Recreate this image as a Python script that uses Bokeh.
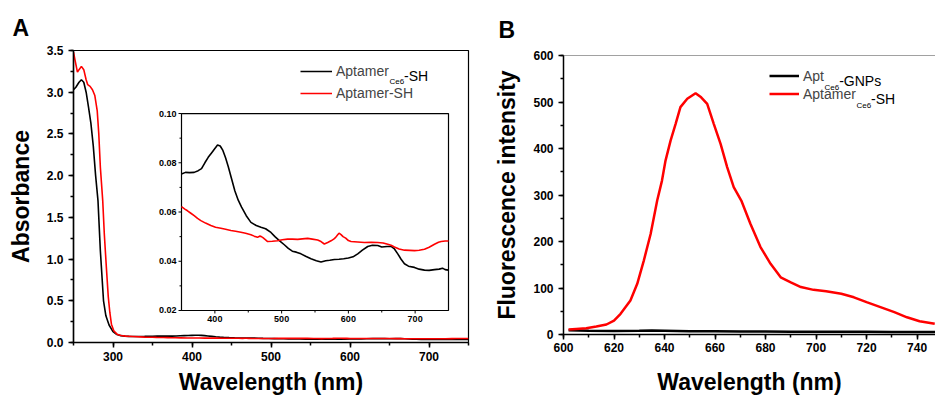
import math
from bokeh.plotting import figure
from bokeh.models import (SingleIntervalTicker, Label, Legend, LegendItem, Span,
                          NumeralTickFormatter, Range1d, Title)
from bokeh.core.properties import value
from bokeh.layouts import row
from bokeh.embed import file_html
from bokeh.resources import INLINE

FONT = "Liberation Sans"

# ---------------- Panel A: UV-vis absorbance ----------------
a_black_x = [250, 253, 257, 260, 263, 266, 269, 272, 275, 278, 281, 284, 288, 291, 295, 300,
             305, 310, 315, 320, 330, 340]
a_black_y = [3.03, 3.06, 3.12, 3.15, 3.12, 3.00, 2.82, 2.63, 2.36, 2.00, 1.70, 1.10, 0.50,
             0.32, 0.21, 0.13, 0.095, 0.082, 0.076, 0.073, 0.072, 0.073]
a_red_x = [250, 252, 255, 257, 260, 263, 266, 268, 271, 274, 277, 280, 282, 284, 287, 289,
           291.6, 294, 296, 298, 301, 305, 310, 316, 325, 340]
a_red_y = [3.48, 3.38, 3.24, 3.27, 3.31, 3.27, 3.15, 3.09, 3.07, 3.03, 2.96, 2.78, 2.50,
           2.10, 1.70, 1.30, 0.90, 0.55, 0.36, 0.22, 0.14, 0.10, 0.084, 0.076, 0.072, 0.065]

# visible region 350-750 nm (also shown magnified in the inset)
ins_black_x = [350, 356, 362, 369, 375, 380, 385, 390, 395, 400, 404, 408, 412, 416, 420, 425,
               430, 435, 440, 447, 454, 462, 469, 476, 484, 490, 497, 504, 510, 516, 522, 529,
               536, 544, 552, 559, 566, 572, 579, 586, 593, 600, 607, 614, 621, 629, 636, 644,
               650, 658, 664, 669, 674, 679, 684, 690, 699, 706, 714, 721, 729, 736, 741, 745, 750]
ins_black_y = [0.0754, 0.0761, 0.0760, 0.0761, 0.0768, 0.0776, 0.0800, 0.0822, 0.0840, 0.0858,
               0.0872, 0.0868, 0.0850, 0.0820, 0.0785, 0.0735, 0.0685, 0.0648, 0.0620, 0.0585,
               0.0558, 0.0545, 0.0538, 0.0532, 0.0517, 0.0500, 0.0483, 0.0467, 0.0452, 0.0441,
               0.0437, 0.0430, 0.0420, 0.0410, 0.0402, 0.0397, 0.0402, 0.0404, 0.0407, 0.0408,
               0.0410, 0.0413, 0.0418, 0.0430, 0.0445, 0.0460, 0.0465, 0.0464, 0.0458, 0.0460,
               0.0460, 0.0450, 0.0430, 0.0408, 0.0390, 0.0380, 0.0375, 0.0368, 0.0364, 0.0363,
               0.0366, 0.0368, 0.0372, 0.0366, 0.0364]
ins_red_x = [350, 355, 359, 364, 369, 374, 379, 386, 394, 401, 409, 416, 424, 431, 439, 446,
             454, 459, 464, 467, 469, 472, 476, 479, 486, 494, 501, 509, 516, 524, 531, 539,
             546, 554, 559, 564, 569, 574, 578, 581, 584, 586, 589, 592, 596, 600, 604, 614,
             624, 634, 644, 652, 659, 664, 669, 676, 684, 692, 699, 706, 714, 721, 729, 735,
             739, 745, 750]
ins_red_y = [0.0622, 0.0612, 0.0605, 0.0595, 0.0585, 0.0574, 0.0565, 0.0555, 0.0545, 0.0538,
             0.0534, 0.0530, 0.0525, 0.0522, 0.0518, 0.0514, 0.0508, 0.0502, 0.0497, 0.0502,
             0.0501, 0.0496, 0.0487, 0.0480, 0.0481, 0.0483, 0.0487, 0.0490, 0.0490, 0.0489,
             0.0491, 0.0493, 0.0490, 0.0486, 0.0480, 0.0470, 0.0476, 0.0483, 0.0490, 0.0497,
             0.0508, 0.0514, 0.0508, 0.0500, 0.0494, 0.0484, 0.0480, 0.0478, 0.0476, 0.0477,
             0.0476, 0.0474, 0.0469, 0.0465, 0.0458, 0.0450, 0.0445, 0.0444, 0.0443, 0.0445,
             0.0449, 0.0457, 0.0469, 0.0477, 0.0480, 0.0482, 0.0482]

# inset axes
inset_x_limits = (350, 750)
inset_y_limits = (0.02, 0.10)
inset_x_major = [400, 500, 600, 700]
inset_x_minor = [450, 550, 650]
inset_x_labels = ["400", "500", "600", "700"]
inset_y_major = [0.02, 0.04, 0.06, 0.08, 0.10]
inset_y_minor = [0.03, 0.05, 0.07, 0.09]
inset_y_labels = ["0.02", "0.04", "0.06", "0.08", "0.10"]

# ---------------- Panel B: fluorescence ----------------
b_red_x = [602, 605, 609, 613, 617, 620, 622.6, 626.5, 629.2, 631.8, 634.5, 637.1, 639, 640.4,
           642.4, 644.4, 646.3, 649, 652.3, 654.5, 656.9, 659.5, 662.2, 664.8, 667.4, 670.4,
           674, 678, 682, 686, 690, 694, 699, 704, 710, 715, 720, 725.5, 731, 736, 741, 747]
b_red_y = [10.7, 12, 13.6, 17, 21.5, 30, 44.5, 73, 109, 159, 216, 288, 331, 374, 417, 453, 489,
           507, 519, 510, 496, 453, 410, 360, 317, 288, 238, 188, 152, 123, 112, 102, 96, 93,
           87.5, 80, 69.5, 59, 48, 37, 28.6, 23]
b_black_x = [602, 610, 620, 630, 635, 640, 650, 660, 670, 680, 690, 700, 710, 720, 730, 740, 748]
b_black_y = [9, 8, 7.5, 8, 8.5, 8, 7, 7, 6.5, 6.5, 6, 6, 6, 6, 5.5, 5.5, 5.5]


def style_axes(p, xint, yint, size="12px", tick_out=5, minor_out=3, lw=1.5):
    for ax, interval in ((p.xaxis[0], xint), (p.yaxis[0], yint)):
        ax.ticker = SingleIntervalTicker(interval=interval, num_minor_ticks=2)
        ax.major_label_text_font = FONT
        ax.major_label_text_font_style = "bold"
        ax.major_label_text_font_size = size
        ax.major_label_text_color = "black"
        ax.major_tick_in = 0
        ax.major_tick_out = tick_out
        ax.minor_tick_in = 0
        ax.minor_tick_out = minor_out
        ax.axis_line_width = lw
        ax.major_tick_line_width = lw
        ax.minor_tick_line_width = lw
        ax.axis_label_text_font = FONT
        ax.axis_label_text_font_style = "bold"
        ax.axis_label_text_font_size = "23px"
        ax.axis_label_text_color = "black"
    p.xgrid.visible = False
    p.ygrid.visible = False


def lab(fl, fb, cx, cy, text, size, bold=False, baseline="alphabetic"):
    # cx, cy: canvas position (from top-left); converted to frame-relative screen units
    return Label(x=cx - fl, y=fb - cy, x_units="screen", y_units="screen", text=text,
                 text_font=FONT, text_font_size=size,
                 text_font_style="bold" if bold else "normal",
                 text_baseline=baseline, text_align="left", text_color="black")


def panel_title(text, offset, standoff):
    return Title(text=text, align="left", offset=offset, standoff=standoff,
                 vertical_align="bottom", text_font=FONT, text_font_size="23px",
                 text_font_style="bold", text_color="black")


# ---------- Panel A ----------
A_FL, A_FB = 73, 342
pA = figure(width=488, height=398, output_backend="svg", toolbar_location=None,
            x_range=Range1d(250, 750), y_range=Range1d(0, 3.5), frame_align=False,
            min_border_left=73, min_border_right=20, min_border_top=50, min_border_bottom=56,
            x_axis_label="Wavelength (nm)", y_axis_label="Absorbance",
            title=panel_title("A", -61, 20))
style_axes(pA, 100, 0.5)
pA.yaxis[0].formatter = NumeralTickFormatter(format="0.0")
pA.xaxis[0].major_label_standoff = 4
pA.xaxis[0].axis_label_standoff = 5
pA.yaxis[0].major_label_standoff = 5
pA.yaxis[0].axis_label_standoff = 10
pA.outline_line_color = "black"
pA.outline_line_width = 1.2
pA.outline_line_alpha = 1

rA_black = pA.line(a_black_x + ins_black_x, a_black_y + ins_black_y, line_color="black", line_width=1.6)
rA_red = pA.line(a_red_x + ins_red_x, a_red_y + ins_red_y, line_color="#ff0000", line_width=1.6)

# inset drawn in the same canvas on its own ranges (placed in the upper-right of the frame)
pA.extra_x_ranges = {"ix": Range1d(188.2, 779.96)}
pA.extra_y_ranges = {"iy": Range1d(0.0070, 0.1256)}
IR = dict(x_range_name="ix", y_range_name="iy")
pA.quad(left=[inset_x_limits[0]], right=[inset_x_limits[1]], bottom=[inset_y_limits[0]],
        top=[inset_y_limits[1]], fill_color="white", line_color="black", line_width=1.2, **IR)
pA.line(ins_black_x, ins_black_y, line_color="black", line_width=1.6, **IR)
pA.line(ins_red_x, ins_red_y, line_color="#ff0000", line_width=1.6, **IR)
pA.ray(x=[inset_x_limits[0]] * len(inset_y_major), y=inset_y_major, length=3, angle=math.pi,
       length_units="screen", line_color="black", line_width=1, **IR)
pA.ray(x=[inset_x_limits[0]] * len(inset_y_minor), y=inset_y_minor, length=2, angle=math.pi,
       length_units="screen", line_color="black", line_width=1, **IR)
pA.ray(x=inset_x_major, y=[inset_y_limits[0]] * len(inset_x_major), length=3, angle=-math.pi / 2,
       length_units="screen", line_color="black", line_width=1, **IR)
pA.ray(x=inset_x_minor, y=[inset_y_limits[0]] * len(inset_x_minor), length=2, angle=-math.pi / 2,
       length_units="screen", line_color="black", line_width=1, **IR)
pA.text(x=[inset_x_limits[0]] * len(inset_y_major), y=inset_y_major, text=inset_y_labels,
        x_offset=-5, text_align="right", text_baseline="middle", text_font=value(FONT),
        text_font_size="9px", text_font_style="bold", text_color="black", **IR)
pA.text(x=inset_x_major, y=[inset_y_limits[0]] * len(inset_x_major), text=inset_x_labels,
        y_offset=6, text_align="center", text_baseline="top", text_font=value(FONT),
        text_font_size="9px", text_font_style="bold", text_color="black", **IR)

legA = Legend(items=[LegendItem(label="Aptamer", renderers=[rA_black]),
                     LegendItem(label="Aptamer-SH", renderers=[rA_red])],
              location=(227, 239.5), padding=0, margin=0, spacing=2,
              glyph_width=32, glyph_height=20, label_height=20, label_standoff=4,
              border_line_alpha=0, background_fill_alpha=0,
              label_text_font=FONT, label_text_font_size="14px")
pA.add_layout(legA)
pA.add_layout(lab(A_FL, A_FB, 388.9, 81.3, "Ce6", "8px"))
pA.add_layout(lab(A_FL, A_FB, 403.6, 75.3, "-SH", "14px"))

# ---------- Panel B ----------
B_FL, B_FB = 75, 334
pB = figure(width=447, height=398, output_backend="svg", toolbar_location=None,
            x_range=Range1d(600, 747.3), y_range=Range1d(0, 600), frame_align=False,
            min_border_left=75, min_border_right=0, min_border_top=55, min_border_bottom=64,
            x_axis_label="Wavelength (nm)", y_axis_label="Fluorescence intensity",
            title=panel_title("B", -65, 26))
style_axes(pB, 20, 100)
pB.xaxis[0].major_label_standoff = 3
pB.xaxis[0].axis_label_standoff = 14
pB.yaxis[0].major_label_standoff = 5
pB.yaxis[0].axis_label_standoff = 10
pB.outline_line_alpha = 0
pB.add_layout(Span(location=600, dimension="width", line_color="#444444", line_width=1.2))

rB_black = pB.line(b_black_x, b_black_y, line_color="black", line_width=2.5)
rB_red = pB.line(b_red_x, b_red_y, line_color="#ff0000", line_width=2.5)

legB = Legend(items=[LegendItem(label="Apt", renderers=[rB_black]),
                     LegendItem(label="Aptamer", renderers=[rB_red])],
              location=(206, 231.8), padding=0, margin=0, spacing=1,
              glyph_width=30, glyph_height=17, label_height=17, label_standoff=4,
              border_line_alpha=0, background_fill_alpha=0,
              label_text_font=FONT, label_text_font_size="14px")
pB.add_layout(legB)
pB.add_layout(lab(B_FL, B_FB, 336.0, 86.5, "Ce6", "8px"))
pB.add_layout(lab(B_FL, B_FB, 350.7, 80.5, "-GNPs", "14px"))
pB.add_layout(lab(B_FL, B_FB, 367.9, 104.5, "Ce6", "8px"))
pB.add_layout(lab(B_FL, B_FB, 382.6, 98.5, "-SH", "14px"))

layout = row(pA, pB)

open("out.html", "w").write(file_html(layout, INLINE))
